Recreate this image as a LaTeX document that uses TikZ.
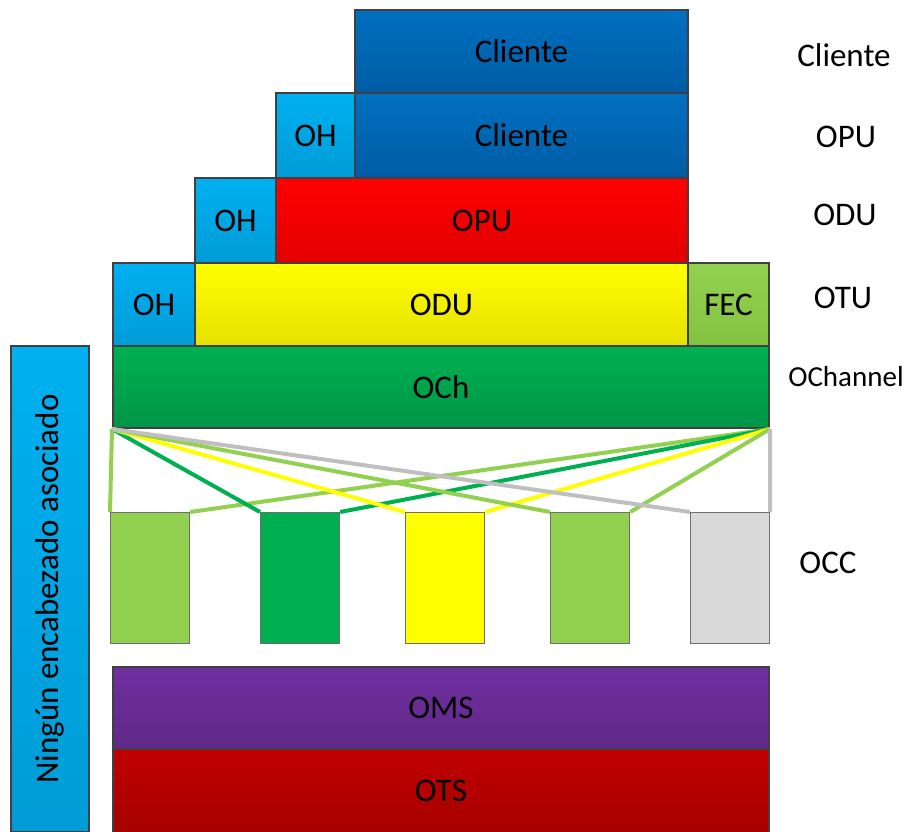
\documentclass[tikz,border=0pt]{standalone}
\usepackage{fontspec}
\setmainfont{Carlito}

\definecolor{borde}{HTML}{404040}
\definecolor{bordeocc}{HTML}{6E6E6E}
\definecolor{verdeclaro}{HTML}{92D050}
\definecolor{verdeosc}{HTML}{00B050}
\definecolor{amarillo}{HTML}{FFFF00}
\definecolor{grisclaro}{HTML}{D9D9D9}
\definecolor{grislinea}{HTML}{BFBFBF}
\definecolor{azularriba}{HTML}{0070C0}
\definecolor{azulabajo}{HTML}{005CA4}
\definecolor{celestearriba}{HTML}{00B0F0}
\definecolor{celesteabajo}{HTML}{009CD6}
\definecolor{rojoarriba}{HTML}{FF0000}
\definecolor{rojoabajo}{HTML}{E20000}
\definecolor{amarilloabajo}{HTML}{E6E000}
\definecolor{fecabajo}{HTML}{84C242}
\definecolor{verdeabajo}{HTML}{009648}
\definecolor{moradoarriba}{HTML}{7030A0}
\definecolor{moradoabajo}{HTML}{602888}
\definecolor{granatearriba}{HTML}{C00000}
\definecolor{granateabajo}{HTML}{A60000}

\tikzset{
  caja/.style 2 args={rectangle,draw=borde,line width=2pt,anchor=north west,
    inner sep=0pt,minimum width=#1,minimum height=#2,
    font=\fontsize{33}{40}\selectfont},
  capaazul/.style={top color=azularriba,bottom color=azulabajo},
  capaceleste/.style={top color=celestearriba,bottom color=celesteabajo},
  caparoja/.style={top color=rojoarriba,bottom color=rojoabajo},
  capaamarilla/.style={top color=amarillo,bottom color=amarilloabajo},
  capafec/.style={top color=verdeclaro,bottom color=fecabajo},
  capaverde/.style={top color=verdeosc,bottom color=verdeabajo},
  capamorada/.style={top color=moradoarriba,bottom color=moradoabajo},
  capagranate/.style={top color=granatearriba,bottom color=granateabajo},
  occ/.style={rectangle,draw=bordeocc,line width=1.2pt,anchor=north west,
    minimum width=79pt,minimum height=131pt,inner sep=0pt},
  enlace/.style={line width=4pt},
  etiqueta/.style={font=\fontsize{33}{40}\selectfont}
}

\begin{document}
\begin{tikzpicture}[x=1pt,y=-1pt]
  \useasboundingbox (0,0) rectangle (907,831);
  % pila de capas
\node[caja={333pt}{83pt},capaazul] (cliente) at (354,9) {Cliente};
\node[caja={79pt}{85pt},capaceleste] (ohopu) at (275,92) {OH};
\node[caja={333pt}{85pt},capaazul] (clienteopu) at (354,92) {Cliente};
\node[caja={81pt}{85pt},capaceleste] (ohodu) at (194,177) {OH};
\node[caja={412pt}{85pt},caparoja] (opu) at (275,177) {OPU};
\node[caja={82pt}{83pt},capaceleste] (ohotu) at (112,262) {OH};
\node[caja={493pt}{83pt},capaamarilla] (odu) at (194,262) {ODU};
\node[caja={81pt}{83pt},capafec] (fec) at (687,262) {FEC};
\node[caja={656pt}{82pt},capaverde] (och) at (112,345) {OCh};
  % portadoras OCC
\node[occ,fill=verdeclaro] (occa) at (110,512) {};
\node[occ,fill=verdeosc] (occb) at (260,512) {};
\node[occ,fill=amarillo] (occc) at (405,512) {};
\node[occ,fill=verdeclaro] (occd) at (550,512) {};
\node[occ,fill=grisclaro] (occe) at (690,512) {};
\draw[enlace,verdeclaro] (och.south west) -- (occa.north west);
\draw[enlace,verdeclaro] (och.south east) -- (occa.north east);
\draw[enlace,verdeosc] (och.south west) -- (occb.north west);
\draw[enlace,verdeosc] (och.south east) -- (occb.north east);
\draw[enlace,amarillo] (och.south west) -- (occc.north west);
\draw[enlace,amarillo] (och.south east) -- (occc.north east);
\draw[enlace,verdeclaro] (och.south west) -- (occd.north west);
\draw[enlace,verdeclaro] (och.south east) -- (occd.north east);
\draw[enlace,grislinea] (och.south west) -- (occe.north west);
\draw[enlace,grislinea] (och.south east) -- (occe.north east);
\node[caja={656pt}{82pt},capamorada] (oms) at (112,666) {OMS};
\node[caja={656pt}{84pt},capagranate] (ots) at (112,748) {OTS};
\node[caja={486pt}{78pt},capaceleste,anchor=center,rotate=90] (ninguno)
  at (50,589) {Ningún encabezado asociado};
  % nombres de las capas
\node[etiqueta] (tcliente) at (844,55) {Cliente};
\node[etiqueta] (topu) at (846,137) {OPU};
\node[etiqueta] (todu) at (845,215) {ODU};
\node[etiqueta] (totu) at (843,298) {OTU};
\node[etiqueta,font=\fontsize{29}{35}\selectfont] (tochannel)
  at (846,377) {OChannel};
\node[etiqueta] (tocc) at (828,563) {OCC};
\end{tikzpicture}
\end{document}
